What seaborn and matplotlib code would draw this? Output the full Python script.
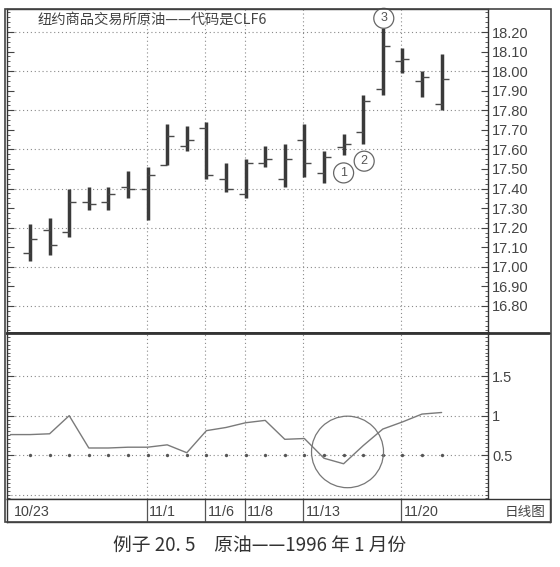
import numpy as np
import pandas as pd
import matplotlib
matplotlib.use("Agg")
import matplotlib.pyplot as plt
import seaborn as sns
from matplotlib.ticker import MultipleLocator, FixedLocator
from matplotlib.patches import Ellipse, Rectangle
from matplotlib.lines import Line2D

# ---------------- data ----------------
bar_idx = list(range(22))
highs = [17.22, 17.25, 17.40, 17.41, 17.41, 17.49, 17.51, 17.73, 17.72, 17.74, 17.53,
         17.55, 17.62, 17.63, 17.73, 17.59, 17.68, 17.88, 18.22, 18.12, 18.00, 18.09]
lows = [17.03, 17.06, 17.15, 17.29, 17.29, 17.35, 17.24, 17.52, 17.59, 17.45, 17.38,
        17.35, 17.51, 17.41, 17.46, 17.43, 17.57, 17.63, 17.88, 17.99, 17.87, 17.80]
opens = [17.07, 17.19, 17.18, 17.33, 17.33, 17.41, 17.40, 17.52, 17.62, 17.71, 17.45,
         17.37, 17.53, 17.45, 17.65, 17.48, 17.61, 17.69, 17.91, 18.05, 17.95, 17.83]
closes = [17.14, 17.11, 17.33, 17.32, 17.37, 17.40, 17.47, 17.67, 17.65, 17.47, 17.40,
          17.53, 17.55, 17.55, 17.53, 17.56, 17.63, 17.85, 18.13, 18.06, 17.97, 17.96]

ind_idx = list(range(-1, 22))
ind_vals = [0.76, 0.76, 0.77, 1.00, 0.59, 0.59, 0.60, 0.60, 0.63, 0.53, 0.81, 0.85,
            0.91, 0.94, 0.70, 0.71, 0.46, 0.39, 0.62, 0.83, 0.92, 1.02, 1.04]
ref_level = 0.5

divider_idx = [6, 9, 11, 14, 19]
date_labels = ["10/23", "11/1", "11/6", "11/8", "11/13", "11/20"]

price_ticks = [16.8, 16.9, 17.0, 17.1, 17.2, 17.3, 17.4, 17.5, 17.6, 17.7, 17.8, 17.9,
               18.0, 18.1, 18.2]
price_grid = [16.8, 17.0, 17.2, 17.4, 17.6, 17.8, 18.0, 18.2]
ind_ticks = [0.5, 1.0, 1.5]
ind_tick_labels = ["0.5", "1", "1.5"]
ind_grid = [0.0, 0.5, 1.0, 1.5]

title_text = "纽约商品交易所原油——代码是CLF6"
caption_text = "例子 20. 5　原油——1996 年 1 月份"
strip_right_text = "日线图"

# circled markers: (label, bar index, price)
circle_notes = [("1", 16.0, 17.48), ("2", 17.05, 17.54), ("3", 18.05, 18.27)]
big_circle = (16.2, 0.54)

# ---------------- layout ----------------
W, H = 560, 567
sns.set_theme(style="white")
plt.rcParams["font.family"] = ["Liberation Sans", "Noto Sans CJK SC", "DejaVu Sans"]

fig = plt.figure(figsize=(W / 100, H / 100), dpi=100)
fig.patch.set_facecolor("white")

def fx(px):
    return px / W

def fy(py):
    return 1 - py / H

L, R = 7, 488
T, M, B, S = 9, 333, 499, 522
x_per = 19.6
x0 = 30
xlim = ((L - x0) / x_per, (R - x0) / x_per)

ax1 = fig.add_axes([fx(L), fy(M), fx(R - L), (M - T) / H])
ax2 = fig.add_axes([fx(L), fy(B), fx(R - L), (B - M) / H])
ax3 = fig.add_axes([fx(L), fy(S), fx(550 - L), (S - B) / H])

grid_kw = dict(color="#8a8a8a", lw=0.8, ls=(0, (1, 2.5)), zorder=0)
dark = "#3a3a3a"

# ---- price panel ----
ax1.set_xlim(*xlim)
ax1.set_ylim(16.80 - (M - 306) / 195.7, 18.20 + (32 - T) / 195.7)
for g in price_grid:
    ax1.axhline(g, **grid_kw)
for d in divider_idx:
    ax1.axvline(d - 0.05, **grid_kw)

df = pd.DataFrame(dict(idx=bar_idx, high=highs, low=lows, open=opens, close=closes))
ax1.vlines(df["idx"], df["low"], df["high"], color=dark, lw=2.5, zorder=3)
ax1.hlines(df["open"], df["idx"] - 0.36, df["idx"], color="#4a4a4a", lw=1.0, zorder=3)
ax1.hlines(df["close"], df["idx"], df["idx"] + 0.36, color="#4a4a4a", lw=1.0, zorder=3)

ax1.set_xticks([])
ax1.yaxis.set_major_locator(FixedLocator(price_ticks))
ax1.yaxis.set_minor_locator(MultipleLocator(0.025))
ax1.set_yticklabels([f"{t:.2f}" for t in price_ticks])
ax1.tick_params(axis="y", which="both", direction="in", left=True, right=True,
                labelleft=False, labelright=True, colors="#444", labelsize=10.5, pad=3)
ax1.tick_params(axis="y", which="major", length=5, width=0.8)
ax1.tick_params(axis="y", which="minor", length=2.5, width=0.6)
for sp in ax1.spines.values():
    sp.set_color("#333")
    sp.set_linewidth(1.0)
ax1.spines["bottom"].set_linewidth(2.0)

ax1.text(0.064, 0.968, title_text, transform=ax1.transAxes, fontsize=10.3,
         color="#444", va="center", ha="left",
         family=["Noto Sans CJK SC", "DejaVu Sans"])

for lab, cx, cy in circle_notes:
    ax1.text(cx, cy, lab, fontsize=9, color="#555", ha="center", va="center", zorder=5,
             bbox=dict(boxstyle="circle,pad=0.32", fc="white", ec="#666", lw=0.9))

# ---- indicator panel ----
ax2.set_xlim(*xlim)
ax2.set_ylim(0.0 - (B - 494.5) / 79.4, 1.5 + (376.5 - M) / 79.4)
for g in ind_grid:
    ax2.axhline(g, **grid_kw)
for d in divider_idx:
    ax2.axvline(d - 0.05, **grid_kw)

sns.lineplot(x=ind_idx, y=ind_vals, ax=ax2, color="#7a7a7a", lw=1.0, zorder=3)
sns.scatterplot(x=bar_idx, y=[ref_level] * len(bar_idx), ax=ax2, s=5, color="#555",
                edgecolor=None, zorder=4)
ax2.add_patch(Ellipse(big_circle, 72 / x_per, 72 / 79.4, fill=False, ec="#777", lw=0.9,
                      zorder=5))

ax2.set_xticks([])
ax2.yaxis.set_major_locator(FixedLocator(ind_ticks))
ax2.set_yticklabels(ind_tick_labels)
ax2.yaxis.set_minor_locator(MultipleLocator(0.05))
ax2.tick_params(axis="y", which="both", direction="in", left=True, right=True,
                labelleft=False, labelright=True, colors="#444", labelsize=10.5, pad=3)
ax2.tick_params(axis="y", which="major", length=5, width=0.8)
ax2.tick_params(axis="y", which="minor", length=2.5, width=0.6)
for sp in ax2.spines.values():
    sp.set_color("#333")
    sp.set_linewidth(1.0)
ax2.spines["top"].set_visible(False)

# ---- date strip ----
ax3.set_xlim(xlim[0], xlim[0] + (550 - L) / x_per)
ax3.set_ylim(0, 1)
ax3.set_xticks([])
ax3.set_yticks([])
for sp in ax3.spines.values():
    sp.set_color("#333")
    sp.set_linewidth(1.0)
ax3.set_facecolor("white")
for d in divider_idx:
    ax3.axvline(d - 0.05, color="#555", lw=0.9)
label_x = [xlim[0] + 0.35] + [d + 0.08 for d in divider_idx]
for lx, lab in zip(label_x, date_labels):
    ax3.text(lx, 0.45, lab, fontsize=10.3, color="#444", ha="left", va="center")
ax3.text(0.992, 0.45, strip_right_text, transform=ax3.transAxes, fontsize=9.8,
         color="#444", ha="right", va="center",
         family=["Noto Sans CJK SC", "DejaVu Sans"])

# ---- frame pieces ----
fig.add_artist(Line2D([fx(L), fx(549)], [fy(M), fy(M)], transform=fig.transFigure,
                      color="#333", lw=2.0))
fig.add_artist(Rectangle((fx(5), fy(S)), fx(546), (S - T) / H, transform=fig.transFigure,
                         fill=False, ec="#444", lw=1.2))

fig.text(0.463, fy(545), caption_text, fontsize=13.5, color="#333", ha="center",
         va="center", family=["Noto Sans CJK SC", "DejaVu Sans"])

fig.savefig("out.png", dpi=100, facecolor="white")
